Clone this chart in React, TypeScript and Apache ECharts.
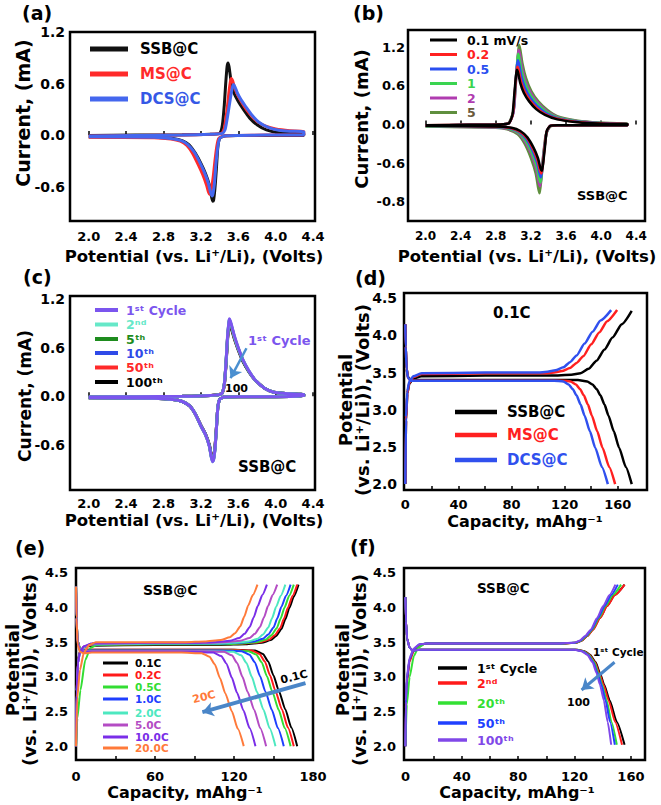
import React, { useEffect, useRef } from 'react';
import * as echarts from 'echarts';

const FF = '"DejaVu Sans", sans-serif';

// ---------- tick values ----------
const cvTicks = [2.0, 2.4, 2.8, 3.2, 3.6, 4.0, 4.4];
const cvLabelsB = [-1.2, -0.6, 0, 0.6, 1.2];
const cvLabelsAC = [-0.6, 0, 0.6, 1.2];
const potLabels = [2.0, 2.5, 3.0, 3.5, 4.0, 4.5];
const capTicksD = [20, 40, 60, 80, 100, 120, 140, 160];
const capLabelsD = [0, 40, 80, 120, 160];
const capTicksE = [30, 60, 90, 120, 150];
const capLabelsE = [0, 60, 120, 180];

// ---------- (a) CV of three samples ----------
const aSSB = [[2.0,-0.005],[2.5,0.0],[3.0,0.005],[3.3,0.01],[3.4,0.02],[3.43,0.12],[3.45,0.35],[3.465,0.6],[3.48,0.8],[3.49,0.84],[3.5,0.8],[3.52,0.65],[3.55,0.5],[3.6,0.39],[3.66,0.29],[3.72,0.2],[3.8,0.12],[3.9,0.06],[4.05,0.025],[4.3,0.015],[4.3,-0.005],[3.9,-0.005],[3.6,-0.005],[3.45,-0.01],[3.4,-0.04],[3.38,-0.15],[3.365,-0.4],[3.35,-0.62],[3.335,-0.76],[3.325,-0.77],[3.31,-0.7],[3.29,-0.58],[3.25,-0.45],[3.2,-0.33],[3.14,-0.21],[3.07,-0.11],[3.0,-0.065],[2.9,-0.04],[2.7,-0.025],[2.0,-0.02]];
const aMS = [[2.0,-0.01],[2.5,-0.005],[3.0,0.0],[3.3,0.01],[3.42,0.02],[3.45,0.08],[3.48,0.3],[3.5,0.5],[3.515,0.62],[3.525,0.66],[3.54,0.63],[3.56,0.55],[3.6,0.45],[3.66,0.34],[3.72,0.25],[3.8,0.16],[3.9,0.1],[4.0,0.07],[4.15,0.05],[4.3,0.04],[4.3,0.0],[3.9,0.0],[3.6,-0.005],[3.44,-0.01],[3.39,-0.04],[3.37,-0.13],[3.35,-0.3],[3.33,-0.5],[3.31,-0.64],[3.295,-0.69],[3.28,-0.66],[3.26,-0.58],[3.22,-0.46],[3.17,-0.34],[3.11,-0.21],[3.05,-0.12],[2.98,-0.07],[2.88,-0.045],[2.7,-0.03],[2.0,-0.025]];
const aDCS = [[2.0,-0.01],[2.5,-0.005],[3.0,0.0],[3.3,0.01],[3.43,0.02],[3.46,0.07],[3.49,0.25],[3.52,0.46],[3.54,0.57],[3.55,0.59],[3.565,0.56],[3.59,0.49],[3.63,0.41],[3.68,0.33],[3.74,0.24],[3.82,0.15],[3.92,0.09],[4.02,0.06],[4.15,0.045],[4.3,0.04],[4.3,0.0],[3.9,0.0],[3.6,-0.005],[3.45,-0.01],[3.4,-0.04],[3.38,-0.14],[3.36,-0.35],[3.345,-0.56],[3.33,-0.68],[3.32,-0.71],[3.305,-0.67],[3.28,-0.56],[3.24,-0.44],[3.19,-0.32],[3.13,-0.2],[3.06,-0.11],[2.99,-0.065],[2.88,-0.04],[2.7,-0.025],[2.0,-0.02]];

// ---------- (b) CV at scan rates ----------
const b01 = [[2.0,-0.01],[2.5,-0.005],[2.85,0.0],[2.95,0.02],[2.99,0.15],[3.01,0.45],[3.03,0.76],[3.04,0.85],[3.055,0.8],[3.08,0.64],[3.12,0.49],[3.18,0.36],[3.26,0.24],[3.36,0.15],[3.5,0.08],[3.7,0.04],[3.9,0.02],[4.1,0.01],[4.3,0.01],[4.3,-0.01],[3.8,-0.01],[3.5,-0.01],[3.42,-0.02],[3.38,-0.1],[3.36,-0.35],[3.34,-0.6],[3.325,-0.72],[3.31,-0.68],[3.28,-0.52],[3.23,-0.36],[3.16,-0.2],[3.08,-0.1],[2.98,-0.05],[2.8,-0.03],[2.0,-0.02]];
const b02 = [[2.0,-0.01],[2.5,-0.005],[2.85,0.0],[2.95,0.02],[2.995,0.16],[3.015,0.48],[3.035,0.8],[3.045,0.9],[3.06,0.85],[3.085,0.68],[3.125,0.52],[3.185,0.38],[3.265,0.26],[3.365,0.16],[3.5,0.09],[3.7,0.045],[3.9,0.025],[4.1,0.012],[4.3,0.01],[4.3,-0.01],[3.8,-0.01],[3.5,-0.01],[3.42,-0.02],[3.38,-0.11],[3.355,-0.38],[3.335,-0.64],[3.32,-0.76],[3.305,-0.72],[3.275,-0.55],[3.225,-0.38],[3.155,-0.21],[3.075,-0.11],[2.97,-0.055],[2.8,-0.03],[2.0,-0.02]];
const b05 = [[2.0,-0.015],[2.5,-0.005],[2.85,0.0],[2.95,0.02],[3.0,0.18],[3.02,0.55],[3.04,0.9],[3.05,1.0],[3.065,0.94],[3.09,0.76],[3.13,0.58],[3.19,0.42],[3.27,0.29],[3.37,0.18],[3.5,0.1],[3.7,0.05],[3.9,0.028],[4.1,0.015],[4.3,0.012],[4.3,-0.01],[3.8,-0.01],[3.5,-0.01],[3.42,-0.02],[3.38,-0.12],[3.35,-0.42],[3.33,-0.7],[3.315,-0.82],[3.3,-0.77],[3.27,-0.59],[3.22,-0.41],[3.15,-0.23],[3.07,-0.12],[2.96,-0.06],[2.8,-0.035],[2.0,-0.02]];
const b1 = [[2.0,-0.015],[2.5,-0.005],[2.85,0.0],[2.95,0.025],[3.0,0.2],[3.025,0.62],[3.045,0.99],[3.055,1.1],[3.07,1.03],[3.095,0.83],[3.135,0.64],[3.195,0.46],[3.275,0.32],[3.375,0.2],[3.5,0.11],[3.7,0.055],[3.9,0.03],[4.1,0.017],[4.3,0.014],[4.3,-0.01],[3.8,-0.01],[3.5,-0.01],[3.42,-0.025],[3.38,-0.13],[3.345,-0.46],[3.325,-0.77],[3.31,-0.9],[3.295,-0.85],[3.265,-0.65],[3.215,-0.45],[3.145,-0.26],[3.065,-0.13],[2.95,-0.065],[2.8,-0.04],[2.0,-0.025]];
const b2 = [[2.0,-0.015],[2.5,-0.005],[2.85,0.0],[2.95,0.025],[3.005,0.22],[3.03,0.66],[3.05,1.05],[3.06,1.16],[3.075,1.09],[3.1,0.88],[3.14,0.67],[3.2,0.49],[3.28,0.34],[3.38,0.21],[3.5,0.12],[3.7,0.06],[3.9,0.033],[4.1,0.019],[4.3,0.015],[4.3,-0.01],[3.8,-0.01],[3.5,-0.01],[3.42,-0.025],[3.375,-0.14],[3.34,-0.5],[3.32,-0.82],[3.305,-0.96],[3.29,-0.9],[3.26,-0.69],[3.21,-0.48],[3.14,-0.28],[3.06,-0.14],[2.94,-0.07],[2.8,-0.045],[2.0,-0.025]];
const b5 = [[2.0,-0.02],[2.5,-0.01],[2.85,0.0],[2.95,0.03],[3.005,0.24],[3.03,0.7],[3.055,1.12],[3.065,1.24],[3.08,1.16],[3.105,0.94],[3.145,0.72],[3.205,0.52],[3.285,0.36],[3.385,0.23],[3.5,0.13],[3.7,0.065],[3.9,0.036],[4.1,0.022],[4.3,0.018],[4.3,-0.01],[3.8,-0.01],[3.5,-0.015],[3.42,-0.03],[3.37,-0.16],[3.335,-0.55],[3.315,-0.9],[3.3,-1.07],[3.285,-1.0],[3.255,-0.76],[3.2,-0.52],[3.13,-0.3],[3.05,-0.15],[2.93,-0.075],[2.8,-0.05],[2.0,-0.03]];

// ---------- (c) CV over cycles ----------
const c1 = [[2.0,-0.01],[2.5,-0.005],[3.0,0.0],[3.3,0.01],[3.42,0.03],[3.45,0.15],[3.47,0.45],[3.485,0.75],[3.5,0.93],[3.505,0.96],[3.515,0.93],[3.535,0.85],[3.56,0.74],[3.6,0.6],[3.65,0.45],[3.71,0.32],[3.78,0.2],[3.88,0.1],[3.98,0.05],[4.15,0.03],[4.3,0.02],[4.3,0.0],[3.9,-0.005],[3.6,-0.005],[3.45,-0.01],[3.4,-0.04],[3.38,-0.15],[3.365,-0.42],[3.35,-0.66],[3.335,-0.79],[3.325,-0.81],[3.31,-0.75],[3.29,-0.62],[3.25,-0.48],[3.2,-0.37],[3.14,-0.22],[3.08,-0.12],[3.0,-0.065],[2.9,-0.04],[2.7,-0.025],[2.0,-0.02]];
const c2 = [[2.0,-0.01],[2.5,-0.005],[3.0,0.0],[3.3,0.01],[3.42,0.03],[3.45,0.15],[3.47,0.45],[3.485,0.74],[3.5,0.92],[3.505,0.95],[3.515,0.92],[3.535,0.84],[3.56,0.73],[3.6,0.59],[3.65,0.45],[3.71,0.32],[3.78,0.2],[3.88,0.1],[3.98,0.05],[4.15,0.03],[4.3,0.02],[4.3,0.0],[3.9,-0.005],[3.6,-0.005],[3.45,-0.01],[3.4,-0.04],[3.38,-0.15],[3.365,-0.42],[3.35,-0.66],[3.335,-0.79],[3.325,-0.81],[3.31,-0.75],[3.29,-0.62],[3.25,-0.48],[3.2,-0.37],[3.14,-0.22],[3.08,-0.12],[3.0,-0.065],[2.9,-0.04],[2.7,-0.025],[2.0,-0.02]];
const c5 = [[2.0,-0.01],[2.5,-0.005],[3.0,0.0],[3.3,0.01],[3.42,0.03],[3.45,0.15],[3.47,0.44],[3.485,0.73],[3.5,0.91],[3.505,0.94],[3.515,0.91],[3.535,0.83],[3.56,0.72],[3.6,0.59],[3.65,0.44],[3.71,0.31],[3.78,0.2],[3.88,0.1],[3.98,0.05],[4.15,0.03],[4.3,0.02],[4.3,0.0],[3.9,-0.005],[3.6,-0.005],[3.45,-0.01],[3.4,-0.04],[3.38,-0.15],[3.365,-0.41],[3.35,-0.65],[3.335,-0.78],[3.325,-0.8],[3.31,-0.74],[3.29,-0.61],[3.25,-0.48],[3.2,-0.37],[3.14,-0.22],[3.08,-0.12],[3.0,-0.065],[2.9,-0.04],[2.7,-0.025],[2.0,-0.02]];
const c10 = [[2.0,-0.01],[2.5,-0.005],[3.0,0.0],[3.3,0.01],[3.42,0.03],[3.45,0.15],[3.47,0.44],[3.485,0.73],[3.5,0.91],[3.505,0.94],[3.515,0.91],[3.535,0.83],[3.56,0.72],[3.6,0.58],[3.65,0.44],[3.71,0.31],[3.78,0.2],[3.88,0.1],[3.98,0.05],[4.15,0.03],[4.3,0.02],[4.3,0.0],[3.9,-0.005],[3.6,-0.005],[3.45,-0.01],[3.4,-0.04],[3.38,-0.15],[3.365,-0.41],[3.35,-0.65],[3.335,-0.78],[3.325,-0.8],[3.31,-0.74],[3.29,-0.61],[3.25,-0.47],[3.2,-0.36],[3.14,-0.22],[3.08,-0.12],[3.0,-0.065],[2.9,-0.04],[2.7,-0.025],[2.0,-0.02]];
const c50 = [[2.0,-0.01],[2.5,-0.005],[3.0,0.0],[3.3,0.01],[3.42,0.03],[3.45,0.14],[3.47,0.43],[3.485,0.72],[3.5,0.89],[3.505,0.92],[3.515,0.89],[3.535,0.82],[3.56,0.71],[3.6,0.58],[3.65,0.44],[3.71,0.31],[3.78,0.2],[3.88,0.1],[3.98,0.05],[4.15,0.03],[4.3,0.02],[4.3,0.0],[3.9,-0.005],[3.6,-0.005],[3.45,-0.01],[3.4,-0.04],[3.38,-0.15],[3.365,-0.4],[3.35,-0.64],[3.335,-0.77],[3.325,-0.79],[3.31,-0.73],[3.29,-0.61],[3.25,-0.47],[3.2,-0.36],[3.14,-0.22],[3.08,-0.12],[3.0,-0.065],[2.9,-0.04],[2.7,-0.025],[2.0,-0.02]];
const c100 = [[2.0,-0.01],[2.5,-0.005],[3.0,0.0],[3.3,0.01],[3.42,0.03],[3.45,0.14],[3.47,0.42],[3.485,0.7],[3.5,0.87],[3.505,0.9],[3.515,0.87],[3.535,0.8],[3.56,0.7],[3.6,0.57],[3.65,0.43],[3.71,0.31],[3.78,0.2],[3.88,0.1],[3.98,0.05],[4.15,0.03],[4.3,0.02],[4.3,0.0],[3.9,-0.005],[3.6,-0.005],[3.45,-0.01],[3.4,-0.04],[3.38,-0.15],[3.365,-0.4],[3.35,-0.63],[3.335,-0.76],[3.325,-0.78],[3.31,-0.72],[3.29,-0.6],[3.25,-0.47],[3.2,-0.36],[3.14,-0.22],[3.08,-0.12],[3.0,-0.065],[2.9,-0.04],[2.7,-0.025],[2.0,-0.02]];

// ---------- (d) charge / discharge at 0.1C ----------
const dChgSSB = [[0,2.0],[0.5,2.85],[1.5,3.22],[3,3.35],[6,3.42],[12,3.45],[60,3.46],[110,3.46],[125,3.47],[132,3.49],[138,3.55],[144,3.66],[150,3.81],[156,3.97],[163,4.15],[170.5,4.33]];
const dChgMS = [[0,2.0],[0.5,2.85],[1.5,3.22],[3,3.36],[6,3.44],[12,3.48],[60,3.49],[105,3.49],[112,3.5],[118,3.52],[124,3.56],[129,3.63],[134,3.72],[140,3.88],[146,4.04],[152,4.19],[159.5,4.34]];
const dChgDCS = [[0,2.0],[0.5,2.9],[1.5,3.25],[3,3.38],[6,3.45],[12,3.49],[60,3.5],[100,3.5],[107,3.51],[113,3.53],[119,3.57],[124,3.64],[129,3.73],[135,3.89],[141,4.05],[147,4.2],[155,4.34]];
const dDisSSB = [[0,4.15],[0.3,3.85],[1,3.55],[2,3.44],[4,3.4],[10,3.4],[60,3.4],[120,3.4],[130,3.4],[137,3.38],[141,3.34],[144,3.28],[147,3.19],[150,3.07],[153,2.92],[157,2.71],[161,2.49],[166,2.23],[170.5,2.0]];
const dDisMS = [[0,4.15],[0.3,3.85],[1,3.55],[2,3.43],[4,3.39],[10,3.39],[60,3.39],[110,3.39],[118,3.39],[124.5,3.38],[128.5,3.34],[131.5,3.28],[134.5,3.19],[137.5,3.07],[140.5,2.92],[144.5,2.71],[148.5,2.49],[153.5,2.23],[158,2.0]];
const dDisDCS = [[0,4.15],[0.3,3.85],[1,3.55],[2,3.43],[4,3.39],[10,3.39],[60,3.39],[105,3.39],[112,3.39],[119,3.38],[123,3.34],[126,3.28],[129,3.19],[132,3.07],[135,2.92],[139,2.71],[143,2.49],[148,2.23],[152.5,2.0]];

// ---------- (e) rate capability ----------
const eChg01 = [[0,2.0],[0.5,2.9],[1.5,3.25],[3,3.37],[6,3.43],[12,3.45],[60,3.46],[110,3.46],[129,3.47],[141,3.49],[148,3.53],[152,3.59],[156,3.69],[159,3.83],[162,3.99],[165.5,4.16],[169,4.33]];
const eChg02 = [[0,2.0],[0.5,2.85],[1.5,3.22],[3,3.36],[6,3.43],[12,3.46],[60,3.47],[110,3.47],[128,3.48],[140,3.5],[147,3.54],[151,3.6],[155,3.7],[158,3.84],[161,4.0],[164.5,4.17],[168,4.33]];
const eChg05 = [[0,2.0],[1,2.4],[3.4,2.81],[7,3.24],[11,3.42],[16,3.46],[60,3.47],[110,3.47],[125.4,3.48],[137.4,3.5],[144.4,3.54],[148.4,3.6],[152.4,3.7],[155.4,3.84],[158.4,4.0],[161.9,4.17],[165.4,4.33]];
const eChg1 = [[0,2.0],[0.5,2.8],[1.5,3.2],[3,3.35],[6,3.43],[12,3.47],[60,3.48],[108,3.48],[123,3.49],[135,3.51],[142,3.55],[146,3.61],[150,3.71],[153,3.85],[156,4.01],[159.5,4.17],[163,4.33]];
const eChg2 = [[0,2.0],[0.5,2.8],[1.5,3.2],[3,3.35],[6,3.43],[12,3.47],[60,3.48],[104,3.48],[119,3.49],[131,3.51],[138,3.55],[142,3.61],[146,3.71],[149,3.85],[152,4.01],[155.5,4.17],[159,4.33]];
const eChg5 = [[0,2.0],[0.5,2.8],[1.5,3.2],[3,3.35],[6,3.44],[12,3.48],[60,3.49],[98,3.49],[112.8,3.5],[124.8,3.52],[131.8,3.56],[135.8,3.62],[139.8,3.72],[142.8,3.86],[145.8,4.02],[149.3,4.18],[152.8,4.33]];
const eChg10 = [[0,2.0],[0.5,2.8],[1.5,3.2],[3,3.36],[6,3.44],[12,3.48],[60,3.49],[90,3.49],[105,3.5],[117,3.52],[124,3.56],[128,3.62],[132,3.72],[135,3.86],[138,4.02],[141.5,4.18],[145,4.33]];
const eChg20 = [[0,2.0],[1,2.7],[3,3.1],[6,3.35],[10,3.46],[15,3.5],[60,3.5],[83,3.5],[97.8,3.51],[109.8,3.53],[116.8,3.57],[120.8,3.63],[124.8,3.73],[127.8,3.87],[130.8,4.03],[134.3,4.18],[137.8,4.33]];
const eDis01 = [[0,4.3],[0.4,3.85],[1.2,3.52],[3,3.41],[6,3.39],[60,3.39],[120,3.39],[136,3.38],[142,3.33],[146,3.22],[150,3.02],[154,2.8],[159,2.53],[163.5,2.27],[168,2.0]];
const eDis02 = [[0,4.3],[0.4,3.85],[1.2,3.52],[3,3.41],[6,3.39],[60,3.39],[118,3.39],[133.4,3.38],[139.4,3.33],[143.4,3.22],[147.4,3.02],[151.4,2.8],[156.4,2.53],[160.9,2.27],[165.4,2.0]];
const eDis05 = [[0,4.3],[0.4,3.85],[1.2,3.52],[3,3.41],[6,3.38],[60,3.38],[116,3.38],[131,3.37],[137,3.32],[141,3.21],[145,3.01],[149,2.79],[154,2.52],[158.5,2.26],[163,2.0]];
const eDis1 = [[0,4.3],[0.4,3.85],[1.2,3.5],[3,3.4],[6,3.38],[60,3.38],[110,3.38],[125.8,3.37],[131.8,3.32],[135.8,3.21],[139.8,3.01],[143.8,2.79],[148.8,2.52],[153.3,2.26],[157.8,2.0]];
const eDis2 = [[0,4.3],[0.4,3.85],[1.2,3.5],[3,3.4],[6,3.37],[60,3.37],[104,3.37],[119.5,3.36],[125.5,3.31],[129.5,3.2],[133.5,3.0],[137.5,2.78],[142.5,2.52],[147,2.26],[151.5,2.0]];
const eDis5 = [[0,4.3],[0.4,3.85],[1.2,3.5],[3,3.39],[6,3.37],[60,3.37],[97,3.37],[112.4,3.36],[118.4,3.31],[122.4,3.2],[126.4,3.0],[130.4,2.78],[135.4,2.52],[139.9,2.26],[144.4,2.0]];
const eDis10 = [[0,4.3],[0.4,3.85],[1.2,3.48],[3,3.38],[6,3.36],[60,3.36],[89,3.36],[104.3,3.35],[110.3,3.3],[114.3,3.19],[118.3,2.99],[122.3,2.77],[127.3,2.51],[131.8,2.26],[136.3,2.0]];
const eDis20 = [[0,4.3],[0.4,3.85],[1.2,3.46],[3,3.36],[6,3.34],[12,3.35],[60,3.35],[80,3.35],[95.4,3.34],[101.4,3.29],[105.4,3.18],[109.4,2.98],[113.4,2.76],[118.4,2.5],[122.9,2.25],[127.4,2.0]];

// ---------- (f) cycling ----------
const fChg1 = [[0,2.0],[0.3,2.6],[1,2.95],[3,3.25],[6,3.39],[10,3.46],[15,3.48],[60,3.48],[110,3.48],[121,3.49],[125,3.52],[129,3.59],[133,3.68],[138,3.85],[143,4.02],[148.5,4.18],[155.5,4.33]];
const fChg2 = [[0,2.0],[0.3,2.55],[1,2.9],[3,3.22],[6,3.38],[10,3.46],[15,3.48],[60,3.48],[110,3.48],[121,3.49],[125,3.52],[129,3.59],[133.2,3.68],[138.2,3.85],[143.2,4.02],[148.8,4.18],[155.5,4.33]];
const fChg20 = [[0,2.0],[1,2.6],[3,3.0],[6,3.3],[9,3.42],[14,3.48],[60,3.48],[108,3.48],[120.5,3.49],[124.5,3.52],[128.5,3.59],[132.5,3.68],[137.3,3.85],[142,4.02],[147.2,4.18],[153,4.33]];
const fChg50 = [[0,2.0],[0.3,2.6],[1,2.95],[3,3.26],[6,3.4],[10,3.47],[15,3.48],[60,3.48],[106,3.48],[120,3.49],[124,3.52],[128,3.59],[132,3.68],[136.7,3.85],[141.2,4.02],[146,4.18],[150.7,4.33]];
const fChg100 = [[0,2.0],[0.3,2.65],[1,3.0],[3,3.28],[6,3.41],[10,3.47],[15,3.48],[60,3.48],[104,3.48],[119.5,3.49],[123.5,3.52],[127.5,3.59],[131.5,3.68],[136,3.85],[140.3,4.02],[144.8,4.18],[149,4.33]];
const fDis1 = [[0,4.15],[0.4,3.8],[1.2,3.55],[3,3.42],[5,3.38],[10,3.39],[60,3.39],[122,3.39],[127,3.37],[131,3.32],[135,3.21],[138,3.06],[141,2.89],[145,2.66],[150,2.35],[155.5,2.02]];
const fDis2 = [[0,4.15],[0.4,3.8],[1.2,3.55],[3,3.42],[5,3.38],[10,3.39],[60,3.39],[121.5,3.39],[126.5,3.37],[130.5,3.32],[134.5,3.21],[137.5,3.06],[140.5,2.89],[144.2,2.66],[148.8,2.35],[153.7,2.02]];
const fDis20 = [[0,4.15],[0.4,3.8],[1.2,3.55],[3,3.42],[5,3.38],[10,3.39],[60,3.39],[121,3.39],[126,3.37],[130,3.32],[134,3.21],[136.8,3.06],[139.5,2.89],[142.8,2.66],[146.2,2.35],[150,2.02]];
const fDis50 = [[0,4.15],[0.4,3.8],[1.2,3.55],[3,3.42],[5,3.38],[10,3.39],[60,3.39],[120.5,3.39],[125.5,3.37],[129.5,3.32],[133.3,3.21],[136.2,3.06],[139,2.89],[142,2.66],[145.2,2.35],[148.6,2.02]];
const fDis100 = [[0,4.15],[0.4,3.8],[1.2,3.55],[3,3.42],[5,3.38],[10,3.39],[60,3.39],[120,3.39],[125,3.37],[129,3.32],[132.8,3.21],[135.5,3.06],[138,2.89],[140.8,2.66],[143.5,2.35],[146,2.02]];

// ---------- arrows (data coordinates) ----------
const arrowC = [[3.687, 0.594], [3.517, 0.223]];
const arrowE = [[174.3, 2.91], [96, 2.49]];
const arrowF = [[148.4, 3.21], [125, 2.81]];

// ---------- helpers ----------
const font = (s: number) => `bold ${s}px ${FF}`;
function txt(text: string, x: number, y: number, size: number, fill = '#000', align = 'left', rot = 0, lh?: number) {
  const style: any = { text, x: 0, y: 0, fill, font: font(size), textAlign: align, textVerticalAlign: 'middle', align, verticalAlign: 'middle' };
  if (lh) style.lineHeight = lh;
  return { type: 'text', x, y, rotation: rot, silent: true, style };
}
function lg(x1: number, x2: number, y: number, stroke: string, w: number) {
  return { type: 'line', silent: true, shape: { x1, y1: y, x2, y2: y }, style: { stroke, lineWidth: w } };
}
function ln(idx: number, data: number[][], color: string, width: number, mono = false, extra: any = {}) {
  return {
    type: 'line', xAxisIndex: idx, yAxisIndex: idx, data, symbol: 'none', showSymbol: false,
    smooth: 0.2, smoothMonotone: mono ? 'x' : undefined,
    lineStyle: { color, width }, itemStyle: { color }, silent: true, animation: false, ...extra,
  };
}
function arrow(pts: number[][], color: string, width: number) {
  return {
    silent: true, symbol: ['none', 'arrow'], symbolSize: 11, animation: false,
    label: { show: false }, lineStyle: { color, width, type: 'solid' },
    data: [[{ coord: pts[0] }, { coord: pts[1] }]],
  };
}
function xAx(idx: number, min: number, max: number, ticks: number[], labels: number[], fmt: (v: number) => string, size = 13, margin = 9) {
  return {
    gridIndex: idx, type: 'value', min, max,
    axisLine: { show: false }, splitLine: { show: false },
    axisTick: { show: true, inside: true, length: 4, customValues: ticks, lineStyle: { color: '#000', width: 1.5 } },
    axisLabel: { customValues: labels, formatter: fmt, color: '#000', fontFamily: FF, fontWeight: 'bold', fontSize: size, margin },
  };
}
function yAx(idx: number, min: number, max: number, labels: number[], fmt: (v: number) => string, size = 14, margin = 5) {
  return {
    gridIndex: idx, type: 'value', min, max,
    axisLine: { show: false }, splitLine: { show: false }, axisTick: { show: false },
    axisLabel: { customValues: labels, formatter: fmt, color: '#000', fontFamily: FF, fontWeight: 'bold', fontSize: size, margin },
  };
}
const f1 = (v: number) => v.toFixed(1);
const f0 = (v: number) => String(Math.round(v));
const fB = (v: number) => (Math.abs(v + 1.2) < 1e-6 ? '-0.8' : v.toFixed(1));

const gridBox = (left: number, top: number, width: number, height: number) => ({
  left, top, width, height, show: true, borderColor: '#000', borderWidth: 2.5, backgroundColor: 'transparent', containLabel: false,
});

const POT = 'Potential (vs. Li⁺/Li), (Volts)';
const CAP = 'Capacity, mAhg⁻¹';
const PV = 'Potential\n(vs. Li⁺/Li)), (Volts)';
const R90 = Math.PI / 2;

export default function App() {
  const ref = useRef<HTMLDivElement>(null);
  useEffect(() => {
    const chart = echarts.init(ref.current!, null, { renderer: 'svg' });
    const option: any = {
      animation: false,
      backgroundColor: '#fff',
      grid: [
        gridBox(70, 32, 245, 189),
        gridBox(408, 30, 237, 191),
        gridBox(70, 296, 245, 194),
        gridBox(404, 293, 243, 197),
        gridBox(76, 568, 237, 192),
        gridBox(404, 568, 241, 192),
      ],
      xAxis: [
        xAx(0, 1.8, 4.42, cvTicks, cvTicks, f1, 13, 9),
        xAx(1, 1.8, 4.5, cvTicks, cvTicks, f1, 12, 9),
        xAx(2, 1.8, 4.42, cvTicks, cvTicks, f1, 13, 7),
        xAx(3, -1, 182, capTicksD, capLabelsD, f0, 13, 8),
        xAx(4, 0, 180, capTicksE, capLabelsE, f0, 13, 10),
        xAx(5, -1, 170, capTicksD, capLabelsD, f0, 13, 10),
      ],
      yAxis: [
        yAx(0, -1.0, 1.2, cvLabelsAC, f1, 14, 5),
        yAx(1, -1.5, 1.47, cvLabelsB, fB, 13, 3),
        yAx(2, -1.16, 1.24, cvLabelsAC, f1, 14, 5),
        yAx(3, 1.92, 4.57, potLabels, f1, 14, 7),
        yAx(4, 1.8, 4.57, potLabels, f1, 13, 8),
        yAx(5, 1.8, 4.57, potLabels, f1, 13, 8),
      ],
      series: [
        ln(0, aSSB, '#111', 3), ln(0, aMS, '#ff2a2a', 3), ln(0, aDCS, '#4467ee', 3),
        ln(1, b5, '#5f8f3e', 2.5), ln(1, b2, '#b03cb0', 2.5), ln(1, b1, '#3ad450', 2.5),
        ln(1, b05, '#2a4ff0', 2.5), ln(1, b02, '#ff2020', 2.5), ln(1, b01, '#000', 2.5),
        ln(2, c100, '#000', 3), ln(2, c50, '#ff2a2a', 3), ln(2, c10, '#2f4ae8', 3),
        ln(2, c5, '#1e8c1e', 3), ln(2, c2, '#66e8c8', 3),
        ln(2, c1, '#7b55ee', 3, false, { markLine: arrow(arrowC, '#4a8fd0', 2.5) }),
        ln(3, dChgSSB, '#000', 2.5, true), ln(3, dDisSSB, '#000', 2.5, true),
        ln(3, dChgMS, '#ff2020', 2.5, true), ln(3, dDisMS, '#ff2020', 2.5, true),
        ln(3, dChgDCS, '#3050ee', 2.5, true), ln(3, dDisDCS, '#3050ee', 2.5, true),
        ln(4, eChg01, '#000', 2, true), ln(4, eDis01, '#000', 2, true),
        ln(4, eChg02, '#ff1a1a', 2, true), ln(4, eDis02, '#ff1a1a', 2, true),
        ln(4, eChg05, '#33dd33', 2, true), ln(4, eDis05, '#33dd33', 2, true),
        ln(4, eChg1, '#1f3fff', 2, true), ln(4, eDis1, '#1f3fff', 2, true),
        ln(4, eChg2, '#4de8c0', 2, true), ln(4, eDis2, '#4de8c0', 2, true),
        ln(4, eChg5, '#b44cc4', 2, true), ln(4, eDis5, '#b44cc4', 2, true),
        ln(4, eChg10, '#7a2ee8', 2, true), ln(4, eDis10, '#7a2ee8', 2, true),
        ln(4, eChg20, '#ff7a3a', 2, true),
        ln(4, eDis20, '#ff7a3a', 2, true, { markLine: arrow(arrowE, '#4a86c8', 4) }),
        ln(5, fChg1, '#000', 2, true), ln(5, fDis1, '#000', 2, true),
        ln(5, fChg2, '#ff1a1a', 2, true), ln(5, fDis2, '#ff1a1a', 2, true),
        ln(5, fChg20, '#33e033', 2, true), ln(5, fDis20, '#33e033', 2, true),
        ln(5, fChg50, '#2040ff', 2, true), ln(5, fDis50, '#2040ff', 2, true),
        ln(5, fChg100, '#8048e8', 2, true),
        ln(5, fDis100, '#8048e8', 2, true, { markLine: arrow(arrowF, '#4a86c8', 3) }),
      ],
      graphic: [
        // panel letters
        txt('(a)', 22, 13, 19), txt('(b)', 353, 13, 19), txt('(c)', 23, 277, 19),
        txt('(d)', 355, 278, 19), txt('(e)', 15, 548, 19), txt('(f)', 350, 547, 19),
        // axis titles
        txt(POT, 194, 256, 16.5, '#000', 'center'), txt(POT, 527, 256, 16.5, '#000', 'center'),
        txt(POT, 194, 520, 16.5, '#000', 'center'),
        txt(CAP, 525, 521, 16, '#000', 'center'), txt(CAP, 185, 792, 16, '#000', 'center'),
        txt(CAP, 517, 792, 16, '#000', 'center'),
        txt('Current, (mA)', 23, 113, 19, '#000', 'center', R90),
        txt('Current, (mA)', 361, 119, 18, '#000', 'center', R90),
        txt('Current, (mA)', 25, 396, 17, '#000', 'center', R90),
        txt(PV, 354, 400, 18, '#000', 'center', R90, 17),
        txt(PV, 21, 670, 18, '#000', 'center', R90, 17),
        txt(PV, 351, 670, 18, '#000', 'center', R90, 17),
        // (a) legend
        lg(90, 128, 49, '#111', 5), lg(90, 128, 74, '#ff2a2a', 5), lg(90, 128, 99, '#4467ee', 5),
        txt('SSB@C', 140, 49, 15), txt('MS@C', 140, 74, 15, '#ff2a2a'), txt('DCS@C', 140, 99, 15, '#3558e6'),
        // (b) legend
        lg(430, 457, 40, '#000', 3), lg(430, 457, 54.5, '#ff2020', 3), lg(430, 457, 69, '#2a4ff0', 3),
        lg(430, 457, 83.5, '#3ad450', 3), lg(430, 457, 98, '#b03cb0', 3), lg(430, 457, 112.5, '#5f8f3e', 3),
        txt('0.1 mV/s', 467, 40, 12.5, '#000', 'left', 0, 13), txt('0.2', 467, 54.5, 12.5, '#ff2020', 'left', 0, 13),
        txt('0.5', 467, 69, 12.5, '#2a4ff0', 'left', 0, 13), txt('1', 467, 83.5, 12.5, '#3ad450', 'left', 0, 13),
        txt('2', 467, 98, 12.5, '#b03cb0', 'left', 0, 13), txt('5', 467, 112.5, 12.5, '#6b5a3c', 'left', 0, 13),
        txt('SSB@C', 577, 195, 13),
        // (c) legend + notes
        lg(95, 118, 310, '#7b55ee', 4), lg(95, 118, 324.5, '#66e8c8', 4), lg(95, 118, 339, '#1e8c1e', 4),
        lg(95, 118, 353, '#2f4ae8', 4), lg(95, 118, 367.5, '#ff2a2a', 4), lg(95, 118, 382, '#000', 4),
        txt('1ˢᵗ Cycle', 126, 310, 12.5, '#7b55ee', 'left', 0, 13), txt('2ⁿᵈ', 126, 324.5, 12.5, '#66e8c8', 'left', 0, 13),
        txt('5ᵗʰ', 126, 339, 12.5, '#1e8c1e', 'left', 0, 13), txt('10ᵗʰ', 126, 353, 12.5, '#2f4ae8', 'left', 0, 13),
        txt('50ᵗʰ', 126, 367.5, 12.5, '#ff2a2a', 'left', 0, 13), txt('100ᵗʰ', 126, 382, 12.5, '#000', 'left', 0, 13),
        txt('1ˢᵗ Cycle', 248, 340, 13, '#7b55ee'), txt('100', 225, 388, 11),
        txt('SSB@C', 238, 467, 15),
        // (d)
        txt('0.1C', 493, 313, 15),
        lg(455, 497, 412, '#000', 4.5), lg(455, 497, 435, '#ff2020', 4.5), lg(455, 497, 460, '#3050ee', 4.5),
        txt('SSB@C', 507, 412, 15), txt('MS@C', 507, 435, 15, '#ff2020'), txt('DCS@C', 507, 460, 15, '#3050ee'),
        // (e)
        txt('SSB@C', 143, 590, 14),
        lg(103, 128, 663, '#000', 3), lg(103, 128, 675, '#ff1a1a', 3), lg(103, 128, 687, '#33dd33', 3),
        lg(103, 128, 699, '#1f3fff', 3), lg(103, 128, 713, '#4de8c0', 3), lg(103, 128, 725, '#b44cc4', 3),
        lg(103, 128, 737, '#7a2ee8', 3), lg(103, 128, 748, '#ff7a3a', 3),
        txt('0.1C', 135, 663, 10.5, '#000', 'left', 0, 11), txt('0.2C', 135, 675, 10.5, '#ff1a1a', 'left', 0, 11),
        txt('0.5C', 135, 687, 10.5, '#33dd33', 'left', 0, 11), txt('1.0C', 135, 699, 10.5, '#1f3fff', 'left', 0, 11),
        txt('2.0C', 135, 713, 10.5, '#4de8c0', 'left', 0, 11), txt('5.0C', 135, 725, 10.5, '#b44cc4', 'left', 0, 11),
        txt('10.0C', 135, 737, 10.5, '#7a2ee8', 'left', 0, 11), txt('20.0C', 135, 748, 10.5, '#ff7a3a', 'left', 0, 11),
        txt('0.1C', 294, 677, 11, '#000', 'center', 0.25), txt('20C', 204, 697, 11, '#ff7a3a', 'center', 0.25),
        // (f)
        txt('SSB@C', 477, 588, 13.5),
        lg(438, 467, 668, '#000', 3.5), lg(438, 467, 683, '#ff1a1a', 3.5), lg(438, 467, 703, '#33e033', 3.5),
        lg(438, 467, 723, '#2040ff', 3.5), lg(438, 467, 740, '#8048e8', 3.5),
        txt('1ˢᵗ Cycle', 477, 668, 12.5, '#000', 'left', 0, 14), txt('2ⁿᵈ', 477, 683, 12.5, '#ff1a1a', 'left', 0, 14),
        txt('20ᵗʰ', 477, 703, 12.5, '#33e033', 'left', 0, 14), txt('50ᵗʰ', 477, 723, 12.5, '#2040ff', 'left', 0, 14),
        txt('100ᵗʰ', 477, 740, 12.5, '#8048e8', 'left', 0, 14),
        txt('1ˢᵗ Cycle', 593, 652, 10.5), txt('100', 567, 702, 11),
      ],
    };
    chart.setOption(option);
    return () => chart.dispose();
  }, []);
  return <div ref={ref} style={{ position: 'fixed', left: 0, top: 0, width: 661, height: 805, background: '#fff' }} />;
}
